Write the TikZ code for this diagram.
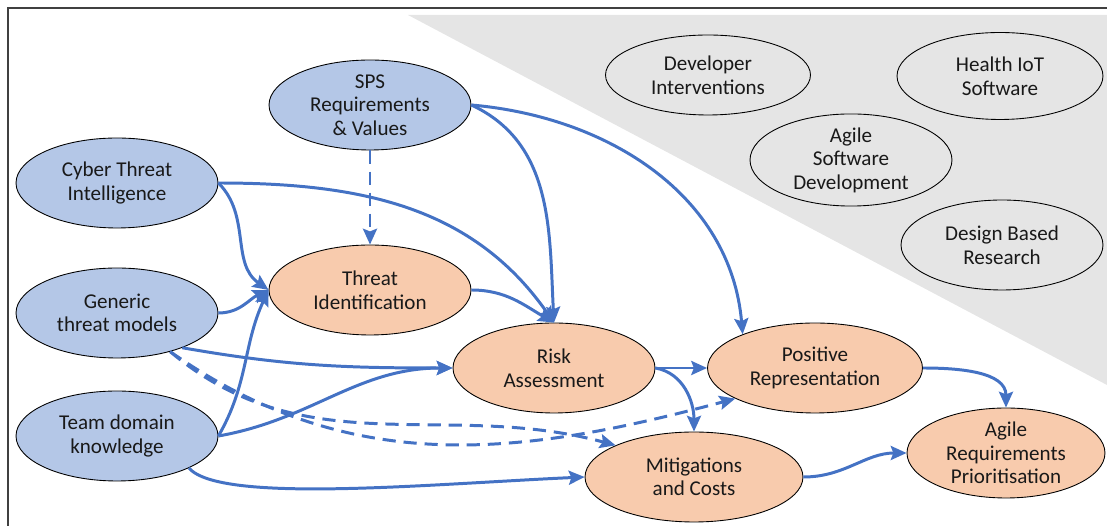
\documentclass[tikz,border=0pt]{standalone}
\usepackage{fontspec}
\setmainfont{Carlito}
\usetikzlibrary{shapes.geometric,arrows.meta}
\definecolor{srcblue}{HTML}{B4C7E7}
\definecolor{taskorange}{HTML}{F8CBAD}
\definecolor{linkblue}{HTML}{4472C4}
\definecolor{ctxgray}{HTML}{E5E5E5}

\begin{document}
\begin{tikzpicture}[x=0.02cm, y=-0.02cm,
	box/.style={ellipse, draw, line width=0.5pt, inner sep=0pt, minimum width=4.04cm, minimum height=1.8cm, align=center, text=black!90, font=\fontsize{12}{13.4}\selectfont},
	src/.style={box, fill=srcblue},
	task/.style={box, fill=taskorange},
	link/.style={draw=linkblue, line width=1.7pt, -{Stealth[length=9pt,width=8pt,inset=1.5pt]}},
	soft/.style={link, dash pattern=on 7.5pt off 4.5pt}]
	\useasboundingbox (0,0) rectangle (1107,526);
	\fill[ctxgray] (408,15) -- (1107,15) -- (1107,385) -- cycle;
	\draw[line width=1pt, black!75] (8,526) -- (8,8) -- (1107,8);

	\node[src] (sps) at (370,105) {SPS\\Requirements\\\& Values};
	\node[src] (cti) at (117,183) {Cyber Threat\\Intelligence};
	\node[src] (gtm) at (117,313) {Generic\\threat models};
	\node[src] (tdk) at (117,436) {Team domain\\knowledge};
	\node[task] (tid) at (370,290) {Threat\\Identification};
	\node[task] (risk) at (554,368) {Risk\\Assessment};
	\node[task, minimum width=4.3cm] (posrep) at (815,368) {Positive\\Representation};
	\node[task, minimum width=4.36cm] (mitig) at (694,477) {Mitigations\\and Costs};
	\node[task, minimum width=3.96cm] (agile) at (1006,453) {Agile\\Requirements\\Prioritisation};
	\node[box, minimum height=1.6cm, minimum width=4.1cm] (devint) at (708,75) {Developer\\Interventions};
	\node[box, minimum height=1.74cm, minimum width=4.12cm] (hiot) at (1000,76) {Health IoT\\Software};
	\node[box] (asd) at (851,160) {Agile\\Software\\Development};
	\node[box] (dbr) at (1002,245) {Design Based\\Research};

	\draw[soft] (sps) -- (tid);
	\draw[link] (sps.east) to[out=-25, in=93] (risk.north);
	\draw[link] (sps.east) to[out=-5, in=95] (posrep.155);
	\draw[link] (cti.east) to[out=-45, in=145] (tid.west);
	\draw[link] (cti.east) to[out=0, in=125] (risk.north);
	\draw[link] (tid.east) to[out=0, in=150] (risk.north);
	\draw[link] (gtm.east) to[out=0, in=205] (tid.west);
	\draw[link] (gtm.-28) to[out=-10, in=180] (risk.west);
	\draw[soft] (gtm.-36) to[out=-35, in=195] (posrep.201);
	\draw[soft] (gtm.-36) to[out=-40, in=165] (mitig.158);
	\draw[link] (tdk.east) to[out=60, in=-115] (tid.west);
	\draw[link] (tdk.east) to[out=10, in=180] (risk.west);
	\draw[link] (tdk.-24) .. controls (220,504) and (430,484) .. (mitig.west);
	\draw[link] (risk.east) -- (posrep.west);
	\draw[link] (risk.east) to[out=-10, in=90] (mitig.north);
	\draw[link] (posrep.east) to[out=0, in=90] (agile.north);
	\draw[link] (mitig.east) to[out=0, in=180] (agile.west);
\end{tikzpicture}
\end{document}
